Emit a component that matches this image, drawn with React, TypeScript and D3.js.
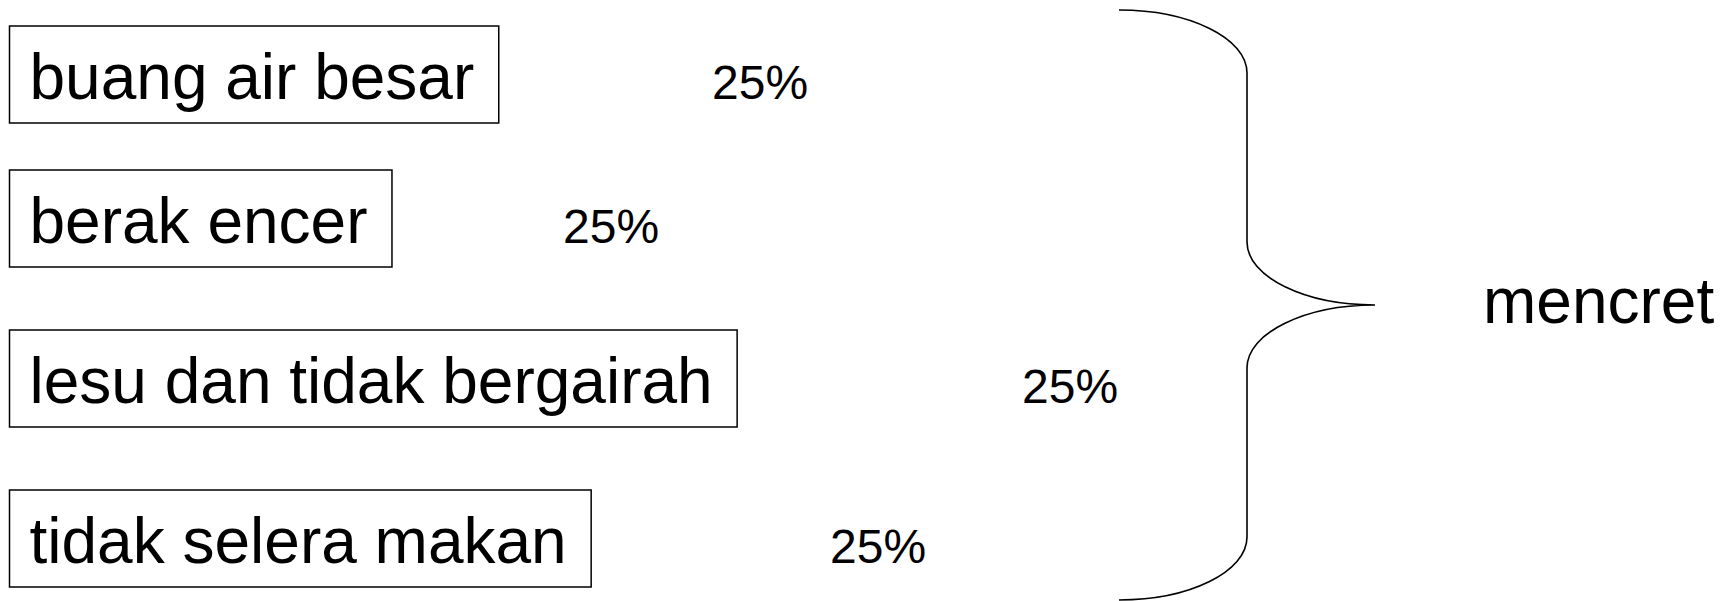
import React, { useEffect, useRef } from 'react';
import * as d3 from 'd3';

// symptoms (left boxes), their shares, and the group they add up to
const labels = ['buang air besar', 'berak encer', 'lesu dan tidak bergairah', 'tidak selera makan'];
const shares = [25, 25, 25, 25];
const groupLabel = 'mencret';

const width = 1724;
const height = 601;
const font = '"Liberation Sans", Arial, Helvetica, sans-serif';

// layout of the rows (box tops) and where each share label sits
const rowTops = [26, 170, 330, 490];
const shareX = [712, 563, 1022, 830];
const boxH = 97;
const padL = 20;
const padR = 24.5;

const App = () => {
    const ref = useRef<SVGSVGElement>(null);

    useEffect(() => {
        document.body.style.margin = '0';
        const svg = d3.select(ref.current);
        svg.selectAll('*').remove();

        const y = d3.scaleOrdinal<string, number>().domain(labels).range(rowTops);
        const x0 = 9.5;

        const rows = svg.append('g')
            .selectAll('g')
            .data(labels)
            .join('g')
            .attr('transform', d => `translate(${x0},${y(d)})`);

        rows.append('text')
            .attr('x', padL)
            .attr('y', 72.8)
            .attr('font-family', font)
            .attr('font-size', 64)
            .attr('fill', '#000')
            .text(d => d);

        rows.insert('rect', 'text')
            .attr('x', 0)
            .attr('y', 0)
            .attr('height', boxH)
            .attr('width', function () {
                const t = (this as any).parentNode.querySelector('text') as SVGTextElement;
                return padL + t.getComputedTextLength() + padR;
            })
            .attr('fill', 'none')
            .attr('stroke', '#000')
            .attr('stroke-width', 1.5);

        svg.append('g')
            .selectAll('text')
            .data(shares)
            .join('text')
            .attr('x', (d, i) => shareX[i])
            .attr('y', (d, i) => y(labels[i]) + 72.5)
            .attr('font-family', font)
            .attr('font-size', 48)
            .attr('fill', '#000')
            .text(d => `${d}%`);

        // curly brace grouping all rows
        const top = 10, bottom = 600, bx0 = 1119, bx1 = 1247, tipX = 1375;
        const mid = (top + bottom) / 2;
        const ry = 63;
        const k = 0.5523;
        const p = d3.path();
        p.moveTo(bx0, top);
        p.bezierCurveTo(bx0 + k * (bx1 - bx0), top, bx1, top + ry - k * ry, bx1, top + ry);
        p.lineTo(bx1, mid - ry);
        p.bezierCurveTo(bx1, mid - ry + k * ry, tipX - k * (tipX - bx1), mid, tipX, mid);
        p.moveTo(tipX, mid);
        p.bezierCurveTo(tipX - k * (tipX - bx1), mid, bx1, mid + ry - k * ry, bx1, mid + ry);
        p.lineTo(bx1, bottom - ry);
        p.bezierCurveTo(bx1, bottom - ry + k * ry, bx0 + k * (bx1 - bx0), bottom, bx0, bottom);

        svg.append('path')
            .attr('d', p.toString())
            .attr('fill', 'none')
            .attr('stroke', '#000')
            .attr('stroke-width', 1.6);

        svg.append('text')
            .attr('x', 1483)
            .attr('y', 323)
            .attr('font-family', font)
            .attr('font-size', 64)
            .attr('fill', '#000')
            .text(groupLabel);
    }, []);

    return (
        <svg ref={ref} width={width} height={height}
            style={{ position: 'absolute', left: 0, top: 0, background: '#fff' }} />
    );
};

export default App;
